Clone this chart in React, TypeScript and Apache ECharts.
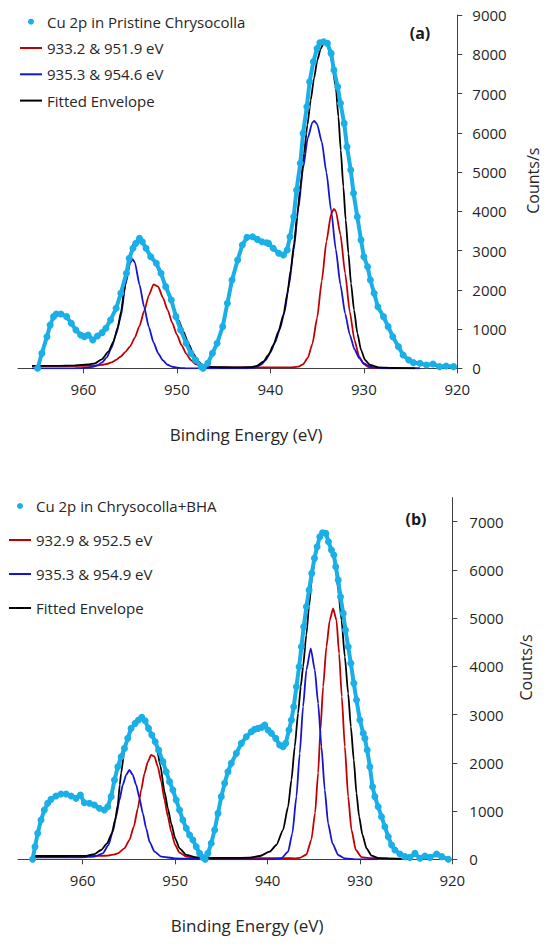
import React, { useEffect, useRef } from "react";
import * as echarts from "echarts";

// ---------- tick values ----------
const xTicks = [920, 930, 940, 950, 960];
const yTicksTop = [0, 1000, 2000, 3000, 4000, 5000, 6000, 7000, 8000, 9000];
const yTicksBottom = [0, 1000, 2000, 3000, 4000, 5000, 6000, 7000];

// ---------- series names ----------
const topNames = ["Cu 2p in Pristine Chrysocolla", "933.2 & 951.9 eV", "935.3 & 954.6 eV", "Fitted Envelope"];
const bottomNames = ["Cu 2p in Chrysocolla+BHA", "932.9 & 952.5 eV", "935.3 & 954.9 eV", "Fitted Envelope"];

// ---------- (a) Pristine chrysocolla : [binding energy eV, counts/s] ----------
const topData: [number, number][] = [
  [964.9, 0], [964.45, 380], [963.9, 806], [963.56, 1100], [963.2, 1316], [962.9, 1384], [962.4, 1384],
  [961.8, 1316], [961.3, 1146], [960.8, 976], [960.3, 849], [959.9, 806], [959.5, 849], [959.0, 722],
  [958.5, 823], [958.0, 908], [957.6, 1019], [957.1, 1231], [956.5, 1528], [956.0, 1910], [955.4, 2419],
  [955.1, 2801], [954.7, 3056], [954.4, 3183], [954.0, 3311], [953.7, 3226], [953.3, 3056], [952.8, 2844],
  [952.2, 2674], [951.7, 2419], [951.2, 2080], [950.6, 1740], [950.1, 1316], [949.6, 976], [949.0, 637],
  [948.5, 382], [948.0, 212], [947.4, 42], [947.2, 0], [946.7, 127], [946.2, 382], [945.7, 637],
  [945.1, 1061], [944.6, 1655], [944.1, 2250], [943.5, 2759], [943.0, 3141], [942.5, 3336], [941.9, 3353],
  [941.4, 3285], [940.9, 3226], [940.4, 3200], [940.2, 3183], [939.7, 3056], [939.1, 2929], [938.6, 2886],
  [938.2, 3013], [937.9, 3353], [937.5, 3862], [937.2, 4542], [936.8, 5221], [936.5, 5985], [936.1, 6664],
  [935.8, 7300], [935.4, 7810], [935.0, 8149], [934.7, 8294], [934.3, 8319], [933.9, 8277], [933.5, 8022],
  [933.2, 7598], [932.8, 7173], [932.5, 6749], [932.1, 6239], [931.8, 5645], [931.4, 5051], [931.1, 4457],
  [930.7, 3862], [930.3, 3268], [930.0, 2844], [929.6, 2589], [929.3, 2250], [928.9, 1910], [928.5, 1570],
  [927.9, 1316], [927.4, 1061], [926.9, 806], [926.3, 552], [925.8, 340], [925.2, 212], [924.7, 144],
  [924.0, 127], [923.3, 85], [922.6, 110], [921.9, 42], [921.2, 59], [920.4, 42],
];

const topRed: [number, number][] = [
  [965.5, 60], [964, 60], [963, 60], [962, 60], [961, 60], [960, 62], [959, 66], [958.5, 72], [958, 85],
  [957.5, 110], [957, 150], [956.5, 215], [956, 300], [955.5, 420], [955, 560], [954.5, 780], [954, 1080],
  [953.5, 1460], [953, 1860], [952.5, 2140], [952, 2080], [951.5, 1800], [951, 1490], [950.5, 1160],
  [950, 860], [949.5, 590], [949, 370], [948.5, 210], [948, 110], [947.5, 60], [947, 35], [946, 26],
  [944, 25], [942, 25], [940, 25], [939, 24], [938, 23], [937.5, 27], [937, 45], [936.5, 102], [936, 263],
  [935.5, 624], [935, 1282], [934.5, 2222], [934, 3232], [933.5, 3932], [933.2, 4060], [933, 4001],
  [932.5, 3404], [932, 2420], [931.5, 1439], [931, 716], [930.5, 299], [930, 104], [929.5, 31], [929, 9],
  [928, 1], [926, 0], [924, 0],
];

const topBlue: [number, number][] = [
  [965.5, 0], [963, 0], [961, 0], [960.5, 3], [960, 8], [959.5, 18], [959, 38], [958.5, 75], [958, 150],
  [957.5, 280], [957, 520], [956.5, 870], [956, 1320], [955.5, 2130], [955, 2680], [954.75, 2780],
  [954.5, 2700], [954, 2130], [953.5, 1560], [953, 1050], [952.5, 660], [952, 380], [951.5, 200], [951, 90],
  [950.5, 40], [950, 15], [949.5, 5], [949, 0], [947, 0], [945, 0], [943, 0], [942.5, 0], [942, 5],
  [941.5, 30], [941, 95], [940.5, 210], [940, 400], [939.5, 660], [939, 990], [938.5, 1420], [938, 2130],
  [937.5, 3020], [937, 4080], [936.5, 5100], [936, 5860], [935.5, 6265], [935.3, 6300], [935, 6220],
  [934.5, 5767], [934, 4985], [933.5, 4022], [933, 3028], [932.5, 2127], [932, 1394], [931.5, 853],
  [931, 486], [930.5, 259], [930, 129], [929.5, 60], [929, 25], [928.5, 10], [928, 4], [927.5, 0], [924, 0],
];

const topBlack: [number, number][] = [
  [965.5, 62], [964, 62], [963, 63], [962, 65], [961, 70], [960.2, 85], [959.5, 100], [958.75, 127],
  [958.04, 229], [957.32, 424], [956.79, 679], [956.32, 1050], [955.97, 1450], [955.65, 1950],
  [955.36, 2450], [955.08, 2850], [954.7, 3150], [954.2, 3280], [953.6, 3150], [953.0, 2930], [952.4, 2740],
  [951.8, 2420], [951.2, 2050], [950.55, 1698], [950.2, 1443], [949.84, 1231], [949.3, 934], [948.77, 637],
  [948.23, 365], [947.7, 170], [947.16, 68], [946.5, 35], [945, 27], [943, 25], [942.17, 28], [941.46, 59],
  [940.74, 170], [940.21, 340], [939.67, 594], [939.14, 934], [938.6, 1358], [938.18, 1910], [937.82, 2504],
  [937.46, 3183], [937.11, 3947], [936.75, 4711], [936.4, 5475], [936.04, 6197], [935.68, 6834],
  [935.33, 7385], [934.97, 7852], [934.61, 8149], [934.26, 8294], [933.9, 8234], [933.54, 7937],
  [933.0, 7173], [932.72, 6409], [932.47, 5560], [932.19, 4627], [931.94, 3778], [931.65, 2929],
  [931.37, 2165], [931.05, 1486], [930.69, 891], [930.3, 467], [929.87, 212], [929.34, 85], [928.45, 25],
  [926.8, 8], [924.5, 0],
];

// ---------- (b) Chrysocolla + BHA ----------
const bottomData: [number, number][] = [
  [965.42, 0], [965.16, 262], [964.87, 538], [964.51, 815], [964.15, 1022], [963.79, 1161], [963.43, 1243],
  [962.89, 1313], [962.35, 1354], [961.8, 1354], [961.26, 1313], [960.72, 1264], [960.25, 1333],
  [959.82, 1174], [959.27, 1161], [958.73, 1126], [958.19, 1057], [957.65, 1022], [957.29, 1091],
  [956.92, 1299], [956.56, 1644], [956.2, 1920], [955.84, 2127], [955.48, 2300], [955.12, 2508],
  [954.76, 2715], [954.32, 2819], [953.96, 2888], [953.6, 2943], [953.24, 2874], [952.88, 2715],
  [952.52, 2577], [952.15, 2439], [951.79, 2266], [951.32, 2025], [950.96, 1817], [950.6, 1610],
  [950.24, 1437], [949.88, 1230], [949.52, 1022], [949.16, 815], [948.79, 642], [948.43, 504], [948.07, 400],
  [947.71, 262], [947.35, 123], [946.99, 40], [946.74, 0], [946.45, 123], [946.09, 331], [945.72, 607],
  [945.36, 952], [945.0, 1299], [944.64, 1575], [944.28, 1817], [943.92, 1990], [943.37, 2197],
  [942.83, 2404], [942.29, 2542], [941.75, 2646], [941.39, 2695], [941.03, 2715], [940.6, 2740],
  [940.3, 2784], [939.94, 2681], [939.58, 2612], [939.11, 2508], [938.68, 2370], [938.32, 2335],
  [938.03, 2404], [937.67, 2681], [937.41, 2888], [937.16, 3164], [936.87, 3579], [936.58, 3993],
  [936.33, 4408], [936.08, 4823], [935.79, 5238], [935.5, 5584], [935.21, 5929], [934.92, 6240],
  [934.63, 6482], [934.34, 6689], [934.05, 6772], [933.69, 6758], [933.4, 6586], [933.08, 6413],
  [932.82, 6309], [932.61, 6067], [932.35, 5790], [932.1, 5445], [931.81, 5099], [931.56, 4754],
  [931.27, 4408], [930.98, 4063], [930.66, 3648], [930.37, 3302], [930.0, 2888], [929.64, 2612],
  [929.46, 2508], [929.21, 2266], [928.92, 1920], [928.63, 1506], [928.38, 1299], [928.02, 1091],
  [927.66, 884], [927.3, 676], [926.93, 469], [926.57, 296], [926.21, 193], [925.67, 109], [925.13, 55],
  [924.58, 40], [924.04, 123], [923.5, 20], [922.96, 68], [922.42, 40], [921.7, 109], [921.15, 55],
  [920.43, 0],
];

const bottomRed: [number, number][] = [
  [965.5, 68], [964, 68], [962, 68], [960.2, 68], [959, 70], [958, 72], [957.3, 75], [956.7, 95],
  [956.2, 123], [955.48, 227], [954.94, 400], [954.47, 676], [954.03, 1057], [953.67, 1437], [953.31, 1782],
  [952.95, 2025], [952.59, 2163], [952.23, 2129], [951.87, 1920], [951.5, 1610], [951.14, 1230],
  [950.78, 884], [950.42, 573], [949.99, 296], [949.52, 138], [948.79, 55], [947.71, 34], [946.45, 27],
  [944, 25], [942, 24], [940, 23], [938, 22], [937, 21], [936.51, 30], [935.79, 100], [935.25, 410],
  [934.85, 960], [934.52, 1790], [934.27, 2681], [933.98, 3579], [933.62, 4408], [933.26, 4961],
  [932.9, 5203], [932.54, 4961], [932.25, 4270], [931.96, 3371], [931.63, 2335], [931.27, 1299],
  [930.91, 608], [930.44, 193], [929.83, 45], [929, 25], [927, 20], [925.5, 15],
];

const bottomBlue: [number, number][] = [
  [965.5, 40], [962, 40], [960.2, 42], [958.73, 55], [957.83, 123], [957.21, 296], [956.74, 573],
  [956.38, 884], [956.02, 1230], [955.66, 1541], [955.3, 1748], [954.94, 1852], [954.58, 1748],
  [954.21, 1541], [953.85, 1264], [953.49, 953], [953.13, 642], [952.77, 366], [952.23, 158], [951.5, 55],
  [950.06, 20], [947.2, 5], [946, 0], [942, 0], [939.5, 0], [938.5, 20], [937.77, 159], [937.31, 539],
  [936.87, 1299], [936.51, 2197], [936.15, 3164], [935.79, 3925], [935.32, 4375], [934.88, 3925],
  [934.52, 3233], [934.16, 2335], [933.8, 1437], [933.44, 746], [932.97, 331], [932.35, 89], [931.63, 20],
  [930.5, 0], [928, 0],
];

const bottomBlack: [number, number][] = [
  [965.5, 68], [962, 68], [960.2, 70], [959.63, 72], [958.73, 109], [958.01, 193], [957.36, 331],
  [956.85, 538], [956.49, 815], [956.2, 1126], [955.99, 1541], [955.84, 1782], [955.5, 2250], [955.0, 2580],
  [954.5, 2760], [954.0, 2870], [953.5, 2910], [953.0, 2760], [952.5, 2560], [952.0, 2330], [951.61, 1955],
  [951.14, 1403], [950.78, 1057], [950.42, 746], [949.99, 435], [949.52, 228], [948.79, 90], [947.71, 40],
  [946.5, 28], [944, 28], [941.93, 33], [940.85, 68], [939.76, 158], [939.04, 296], [938.32, 607],
  [937.77, 1091], [937.41, 1644], [937.05, 2335], [936.69, 3026], [936.4, 3579], [936.15, 3993],
  [935.8, 4650], [935.5, 5250], [935.2, 5800], [934.9, 6200], [934.6, 6480], [934.3, 6680], [934.0, 6770],
  [933.7, 6750], [933.4, 6580], [933.08, 6413], [932.72, 6275], [932.35, 5584], [931.99, 4961],
  [931.63, 4200], [931.27, 3441], [930.98, 2750], [930.66, 2059], [930.37, 1368], [930.08, 884],
  [929.72, 504], [929.28, 227], [928.74, 75], [928.02, 25], [926.5, 15], [925.5, 10],
];

// ---------- styles ----------
const FONT = "'Open Sans', 'Noto Sans', sans-serif";
const DOT = "#1AAFE6";
const RED = "#C00000";
const BLUE = "#1414D2";
const BLACK = "#000000";
const AXIS = "#404040";
const TEXT = "#262626";

function xAxisCfg(gridIndex: number, shift: number) {
  return {
    type: "value",
    gridIndex,
    min: 920,
    max: 967,
    inverse: true,
    axisLine: { show: true, onZero: false, lineStyle: { color: AXIS, width: 1 } },
    axisTick: { show: true, inside: false, length: 5, lineStyle: { color: AXIS }, customValues: xTicks },
    axisLabel: {
      customValues: xTicks,
      margin: 13,
      fontSize: 15,
      fontFamily: FONT,
      color: TEXT,
      formatter: (v: number) => (v % 10 === 0 ? String(v) : ""),
    },
    splitLine: { show: false },
    name: "Binding Energy (eV)",
    nameLocation: "middle",
    nameGap: 58,
    nameTextStyle: { fontSize: 17, fontFamily: FONT, color: TEXT, padding: [0, 0, 0, shift] },
  };
}

function yAxisCfg(gridIndex: number, max: number, ticks: number[], margin: number, gap: number) {
  return {
    type: "value",
    gridIndex,
    position: "right",
    min: 0,
    max,
    interval: 1000,
    axisLine: { show: true, onZero: false, lineStyle: { color: AXIS, width: 1 } },
    axisTick: { show: true, inside: false, length: 5, lineStyle: { color: AXIS }, customValues: ticks },
    axisLabel: {
      customValues: ticks,
      margin,
      fontSize: 15,
      fontFamily: FONT,
      color: TEXT,
      formatter: (v: number) => (v % 1000 === 0 ? String(v) : ""),
    },
    splitLine: { show: false },
    name: "Counts/s",
    nameLocation: "middle",
    nameRotate: 90,
    nameGap: gap,
    nameTextStyle: { fontSize: 16, fontFamily: FONT, color: TEXT, padding: [0, 0, 0, 22] },
  };
}

function dotSeries(name: string, data: [number, number][], idx: number) {
  return {
    name,
    type: "line",
    xAxisIndex: idx,
    yAxisIndex: idx,
    data,
    symbol: "circle",
    symbolSize: 7,
    showSymbol: true,
    showAllSymbol: true,
    lineStyle: { color: DOT, width: 4 },
    itemStyle: { color: DOT },
    emphasis: { disabled: true },
    z: 4,
  };
}

function fitSeries(name: string, data: [number, number][], idx: number, color: string) {
  return {
    name,
    type: "line",
    xAxisIndex: idx,
    yAxisIndex: idx,
    data,
    symbol: "none",
    smooth: 0.2,
    smoothMonotone: "x",
    lineStyle: { color, width: 1.8 },
    itemStyle: { color },
    emphasis: { disabled: true },
    z: 3,
  };
}

function legendCfg(names: string[], left: number, top: number, gap: number) {
  const lineItem = (n: string) => ({ name: n, itemStyle: { opacity: 0 } });
  return {
    orient: "vertical",
    left,
    top,
    padding: 0,
    itemWidth: 22,
    itemHeight: 6,
    itemGap: gap,
    selectedMode: false,
    textStyle: { fontFamily: FONT, fontSize: 15, color: TEXT, lineHeight: 20 },
    data: [{ name: names[0], icon: "circle" }, lineItem(names[1]), lineItem(names[2]), lineItem(names[3])],
  };
}

export default function App() {
  const ref = useRef<HTMLDivElement>(null);

  useEffect(() => {
    if (!ref.current) return;
    const chart = echarts.init(ref.current, undefined, { renderer: "svg" });
    chart.setOption({
      animation: false,
      backgroundColor: "#ffffff",
      grid: [
        { left: 18, top: 15, width: 439.3, height: 353.3, containLabel: false, outerBoundsMode: "none" },
        { left: 18, top: 497.6, width: 434.3, height: 361.7, containLabel: false, outerBoundsMode: "none" },
      ],
      xAxis: [xAxisCfg(0, 17), xAxisCfg(1, 24)],
      yAxis: [yAxisCfg(0, 9000, yTicksTop, 15, 68), yAxisCfg(1, 7500, yTicksBottom, 17, 66)],
      legend: [legendCfg(topNames, 19, 11.7, 6.3), legendCfg(bottomNames, 8, 496, 14)],
      graphic: [
        {
          type: "text",
          x: 420,
          y: 33,
          style: { text: "(a)", fontSize: 16, fontWeight: "bold", fontFamily: FONT, fill: "#1a1a1a", align: "center", verticalAlign: "middle" },
        },
        {
          type: "text",
          x: 416,
          y: 519,
          style: { text: "(b)", fontSize: 16, fontWeight: "bold", fontFamily: FONT, fill: "#1a1a1a", align: "center", verticalAlign: "middle" },
        },
      ],
      series: [
        dotSeries(topNames[0], topData, 0),
        fitSeries(topNames[1], topRed, 0, RED),
        fitSeries(topNames[2], topBlue, 0, BLUE),
        fitSeries(topNames[3], topBlack, 0, BLACK),
        dotSeries(bottomNames[0], bottomData, 1),
        fitSeries(bottomNames[1], bottomRed, 1, RED),
        fitSeries(bottomNames[2], bottomBlue, 1, BLUE),
        fitSeries(bottomNames[3], bottomBlack, 1, BLACK),
      ],
    });
    return () => chart.dispose();
  }, []);

  return (
    <div
      ref={ref}
      style={{ position: "absolute", left: 0, top: 0, width: 550, height: 946, background: "#fff" }}
    />
  );
}
